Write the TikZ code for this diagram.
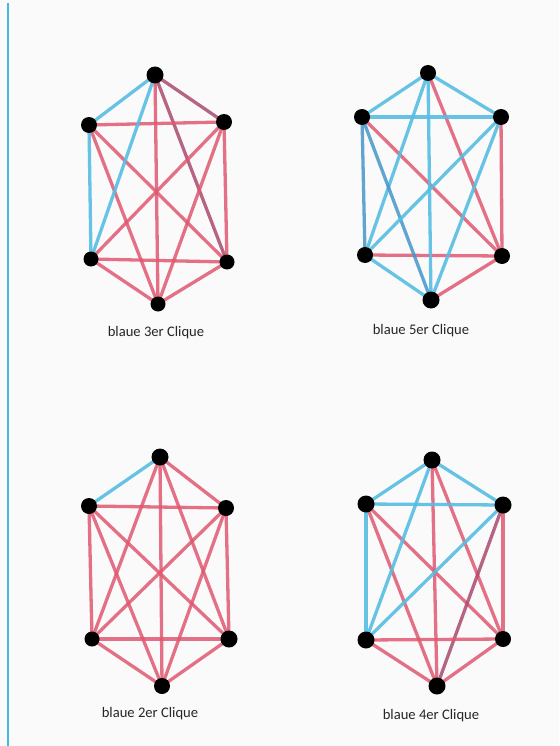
\documentclass[tikz,border=0pt]{standalone}
\usepackage{fontspec}
\setmainfont{Carlito}
\definecolor{paper}{RGB}{250,250,251}
\definecolor{redl}{RGB}{224,88,112}
\definecolor{bluel}{RGB}{86,190,226}
\definecolor{purl}{RGB}{170,75,110}
\definecolor{dbluel}{RGB}{70,150,200}
\definecolor{margin}{RGB}{70,185,225}
\begin{document}
\begin{tikzpicture}[x=1pt,y=-1pt,
  vtx/.style={circle,fill=black,inner sep=0pt,minimum size=16pt},
  re/.style={draw=redl,line width=3.3pt,opacity=0.85},
  be/.style={draw=bluel,line width=3.3pt,opacity=0.9},
  pe/.style={draw=purl,line width=3.3pt,opacity=0.85},
  dbe/.style={draw=dbluel,line width=3.3pt,opacity=0.85},
  lbl/.style={font=\fontsize{14.6}{16}\selectfont,text=black!85}]
\fill[paper] (0,0) rectangle (559,746);
\useasboundingbox (0,0) rectangle (559,746);
\coordinate (m1) at (8,3);
\coordinate (m2) at (8,746);
\draw[margin,line width=1.2pt] (m1) -- (m2);

% ---- graph 1: blaue 3er Clique
\begin{scope}
\coordinate (aT) at (155,75);
\coordinate (aUL) at (89,125);
\coordinate (aUR) at (224,122);
\coordinate (aLL) at (91,259);
\coordinate (aLR) at (227,262);
\coordinate (aB) at (158,304);
\draw[pe] (aT) -- (aUR);
\draw[re] (aT) -- (aB);
\draw[pe] (aT) -- (aLR);
\draw[re] (aUL) -- (aUR);
\draw[re] (aUL) -- (aLR);
\draw[re] (aUL) -- (aB);
\draw[re] (aUR) -- (aLL);
\draw[re] (aUR) -- (aLR);
\draw[re] (aUR) -- (aB);
\draw[re] (aLL) -- (aLR);
\draw[re] (aLL) -- (aB);
\draw[re] (aLR) -- (aB);
\draw[be] (aT) -- (aUL);
\draw[be] (aT) -- (aLL);
\draw[be] (aUL) -- (aLL);
\node[vtx,minimum size=17pt] (nAT) at (aT) {};
\node[vtx] (nAUL) at (aUL) {};
\node[vtx] (nAUR) at (aUR) {};
\node[vtx,minimum size=15pt] (nALL) at (aLL) {};
\node[vtx,minimum size=15pt] (nALR) at (aLR) {};
\node[vtx,minimum size=15pt] (nAB) at (aB) {};
\node[lbl] (la) at (156,333) {blaue 3er Clique};
\end{scope}

% ---- graph 2: blaue 5er Clique
\begin{scope}
\coordinate (bT) at (428,73);
\coordinate (bUL) at (362,117);
\coordinate (bUR) at (501,117);
\coordinate (bLL) at (365,255);
\coordinate (bLR) at (502,256);
\coordinate (bB) at (431,300);
\draw[re] (bT) -- (bLR);
\draw[re] (bUL) -- (bLR);
\draw[re] (bUR) -- (bLR);
\draw[re] (bLL) -- (bLR);
\draw[re] (bB) -- (bLR);
\draw[be] (bT) -- (bUL);
\draw[be] (bT) -- (bUR);
\draw[be] (bT) -- (bLL);
\draw[be] (bT) -- (bB);
\draw[be] (bUL) -- (bUR);
\draw[dbe] (bUL) -- (bLL);
\draw[dbe] (bUL) -- (bB);
\draw[be] (bUR) -- (bLL);
\draw[be] (bUR) -- (bB);
\draw[be] (bLL) -- (bB);
\node[vtx] (nBT) at (bT) {};
\node[vtx] (nBUL) at (bUL) {};
\node[vtx] (nBUR) at (bUR) {};
\node[vtx] (nBLL) at (bLL) {};
\node[vtx] (nBLR) at (bLR) {};
\node[vtx,minimum size=17pt] (nBB) at (bB) {};
\node[lbl] (lb) at (421,331) {blaue 5er Clique};
\end{scope}

% ---- graph 3: blaue 2er Clique
\begin{scope}
\coordinate (cT) at (160,457);
\coordinate (cUL) at (89,506);
\coordinate (cUR) at (226,508);
\coordinate (cLL) at (92,639);
\coordinate (cLR) at (229,639);
\coordinate (cB) at (162,686);
\draw[re] (cT) -- (cUR);
\draw[re] (cT) -- (cLL);
\draw[re] (cT) -- (cLR);
\draw[re] (cT) -- (cB);
\draw[re] (cUL) -- (cUR);
\draw[re] (cUL) -- (cLL);
\draw[re] (cUL) -- (cLR);
\draw[re] (cUL) -- (cB);
\draw[re] (cUR) -- (cLL);
\draw[re] (cUR) -- (cLR);
\draw[re] (cUR) -- (cB);
\draw[re] (cLL) -- (cLR);
\draw[re] (cLL) -- (cB);
\draw[re] (cLR) -- (cB);
\draw[be] (cT) -- (cUL);
\node[vtx,minimum size=17pt] (nCT) at (cT) {};
\node[vtx] (nCUL) at (cUL) {};
\node[vtx] (nCUR) at (cUR) {};
\node[vtx,minimum size=15pt] (nCLL) at (cLL) {};
\node[vtx,minimum size=17pt] (nCLR) at (cLR) {};
\node[vtx] (nCB) at (cB) {};
\node[lbl] (lc) at (150,714) {blaue 2er Clique};
\end{scope}

% ---- graph 4: blaue 4er Clique
\begin{scope}
\coordinate (dT) at (432,460);
\coordinate (dUL) at (366,504);
\coordinate (dUR) at (503,505);
\coordinate (dLL) at (366,640);
\coordinate (dLR) at (503,639);
\coordinate (dB) at (437,686);
\draw[re] (dT) -- (dLR);
\draw[re] (dT) -- (dB);
\draw[re] (dUL) -- (dLR);
\draw[re] (dUL) -- (dB);
\draw[re] (dUR) -- (dLR);
\draw[pe] (dUR) -- (dB);
\draw[re] (dLL) -- (dLR);
\draw[re] (dLL) -- (dB);
\draw[re] (dLR) -- (dB);
\draw[be] (dT) -- (dUL);
\draw[be] (dT) -- (dUR);
\draw[be] (dT) -- (dLL);
\draw[be] (dUL) -- (dUR);
\draw[be] (dUL) -- (dLL);
\draw[be] (dUR) -- (dLL);
\node[vtx,minimum size=17pt] (nDT) at (dT) {};
\node[vtx,minimum size=17pt] (nDUL) at (dUL) {};
\node[vtx,minimum size=17pt] (nDUR) at (dUR) {};
\node[vtx,minimum size=17pt] (nDLL) at (dLL) {};
\node[vtx,minimum size=16pt] (nDLR) at (dLR) {};
\node[vtx,minimum size=17pt] (nDB) at (dB) {};
\node[lbl] (ld) at (431,716) {blaue 4er Clique};
\end{scope}
\end{tikzpicture}
\end{document}
